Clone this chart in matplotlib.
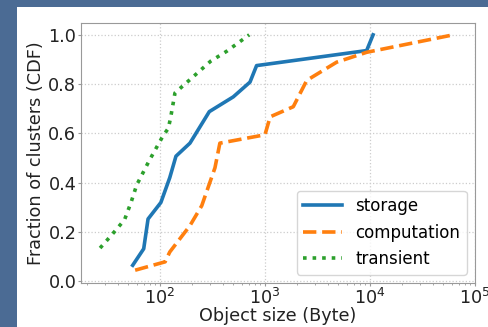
import numpy as np
import matplotlib
matplotlib.use('Agg')
import matplotlib.pyplot as plt
from matplotlib.patches import Rectangle

# object sizes (bytes) and CDF values
storage_x = [55, 70, 77, 102, 124, 142, 193, 295, 499, 720, 832, 9290, 10700]
storage_y = [0.064, 0.131, 0.252, 0.319, 0.42, 0.507, 0.56, 0.688, 0.748, 0.808, 0.875, 0.936, 1.0]

comp_x = [58, 112, 124, 155, 193, 250, 334, 372, 1000, 1120, 1860, 2500, 4820, 9290, 62200]
comp_y = [0.044, 0.078, 0.118, 0.172, 0.225, 0.306, 0.46, 0.56, 0.594, 0.667, 0.708, 0.815, 0.889, 0.929, 1.0]

trans_x = [26.9, 35, 46, 53, 60, 79, 107, 120, 126, 139, 193, 304, 431, 708]
trans_y = [0.134, 0.189, 0.249, 0.319, 0.39, 0.489, 0.59, 0.62, 0.661, 0.764, 0.818, 0.893, 0.933, 1.0]

fig = plt.figure(figsize=(4.88, 3.27), dpi=100)
fig.patch.set_facecolor('#4b6b94')
fig.patches.append(Rectangle((17/488, 0), 1, (327-7)/327, transform=fig.transFigure,
                             facecolor='white', edgecolor='none', zorder=-10))

ax = fig.add_axes([81/488, 44/327, 394/488, 260/327])
ax.plot(storage_x, storage_y, color='#1f77b4', lw=2.6, label='storage')
ax.plot(comp_x, comp_y, color='#ff7f0e', lw=2.6, ls='--', label='computation')
ax.plot(trans_x, trans_y, color='#2ca02c', lw=2.6, ls=':', label='transient')

ax.set_xscale('log')
ax.set_xlim(10**1.248, 1e5)
ax.set_ylim(-0.008, 1.048)
ax.set_yticks([0.0, 0.2, 0.4, 0.6, 0.8, 1.0])
ax.grid(True, color='#cccccc', ls=':', lw=0.9)
for s in ax.spines.values():
    s.set_color('#999999')
ax.tick_params(labelsize=12.7, colors='#999999', labelcolor='#222222', length=2.2)
ax.tick_params(axis='x', pad=1.5)
ax.tick_params(axis='y', pad=1.2)
ax.tick_params(which='minor', color='#999999', length=1.5)
ax.set_xlabel('Object size (Byte)', fontsize=12.7, color='#222222', labelpad=-1)
ax.set_ylabel('Fraction of clusters (CDF)', fontsize=12.7, color='#222222', labelpad=2)
ax.legend(loc='lower right', fontsize=12, handlelength=2.3)

fig.savefig('out.png', dpi=100, facecolor=fig.get_facecolor())
